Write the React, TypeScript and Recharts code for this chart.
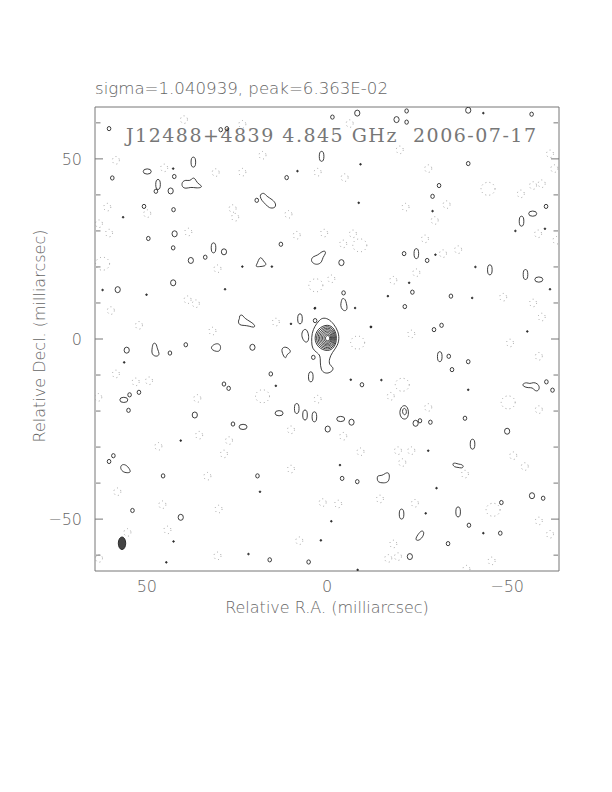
import { ComposedChart, Customized, Line, Scatter, XAxis, YAxis } from "recharts";

type P = [number, number];

// axis ticks (milliarcsec)
const majorTicks = [50, 0, -50];
const minorTicks = [-60, -40, -30, -20, -10, 10, 20, 30, 40, 60];

// core: nested positive contours, innermost first
const coreRing1: P[] = [[-0.2, 1.05], [-0.63, 0.8], [-0.8, 0.2], [-0.63, -0.36], [-0.2, -0.6], [0.3, -0.36], [0.5, 0.2], [0.3, 0.8]];
const coreRing2: P[] = [[-0.2, 1.5], [-0.85, 1.11], [-1.1, 0.2], [-0.85, -0.64], [-0.2, -1.0], [0.63, -0.64], [0.95, 0.2], [0.63, 1.11]];
const coreRing3: P[] = [[-0.2, 1.95], [-1.03, 1.43], [-1.35, 0.2], [-1.03, -0.92], [-0.2, -1.4], [0.95, -0.92], [1.4, 0.2], [0.95, 1.43]];
const coreRing4: P[] = [[-0.2, 2.4], [-1.24, 1.74], [-1.65, 0.2], [-1.24, -1.2], [-0.2, -1.8], [1.28, -1.2], [1.85, 0.2], [1.28, 1.74]];
const coreRing5: P[] = [[-0.2, 2.85], [-1.46, 2.06], [-1.95, 0.2], [-1.46, -1.48], [-0.2, -2.2], [1.6, -1.48], [2.3, 0.2], [1.6, 2.06]];
const coreRing6: P[] = [[-0.2, 3.3], [-1.68, 2.37], [-2.25, 0.2], [-1.68, -1.8], [-0.2, -2.65], [1.92, -1.8], [2.75, 0.2], [1.92, 2.37]];
const coreRing7: P[] = [[-0.2, 3.75], [-1.89, 2.69], [-2.55, 0.2], [-1.89, -2.11], [-0.2, -3.1], [2.25, -2.11], [3.2, 0.2], [2.25, 2.69]];
const coreRing8: P[] = [[-0.2, 4.2], [-2.11, 3.0], [-2.85, 0.2], [-2.11, -2.43], [-0.2, -3.55], [2.57, -2.43], [3.65, 0.2], [2.57, 3.0]];
const coreOuter: P[] = [
  [1.3, 5.9], [-0.3, 5.7], [-1.9, 4.2], [-3.1, 2.1], [-3.4, 0.2], [-3.0, -1.8], [-1.4, -3.8], [-0.6, -5.5],
  [-0.6, -7.2], [-1.6, -7.7], [-1.8, -8.6], [-0.6, -9.5], [0.7, -9.5], [1.7, -8.6], [1.9, -6.3], [1.8, -4.6],
  [2.9, -3.7], [4.1, -2.7], [4.3, -0.7], [4.2, 1.6], [3.4, 3.6], [2.2, 5.1],
];
const coreLobe: P[] = [[6.3, 2.9], [5.4, 2.4], [5.0, 0.7], [5.2, -0.8], [6.1, -1.0], [6.9, 0.2], [7.1, 1.7]];

// larger irregular positive contours
const loopA: P[] = [[40.3, 43.6], [39.2, 44.2], [38.0, 43.8], [37.3, 44.8], [36.6, 44.6], [36.1, 43.3], [34.8, 42.6], [34.8, 42.0], [36.4, 41.9], [37.8, 42.2], [39.2, 41.7], [40.3, 42.2]];
const loopB: P[] = [[18.4, 40.3], [17.4, 40.6], [16.8, 39.6], [15.1, 38.7], [14.1, 37.5], [14.4, 36.3], [16.1, 36.3], [17.0, 37.4], [18.2, 38.5], [18.6, 39.6]];
const loopC: P[] = [[18.8, 22.5], [18.2, 22.7], [17.6, 21.6], [16.8, 20.9], [17.2, 20.2], [18.8, 20.1], [19.9, 20.0], [19.3, 21.1]];
const loopD: P[] = [[4.0, 22.9], [2.6, 23.2], [1.7, 24.1], [0.5, 24.6], [0.3, 23.7], [1.2, 22.7], [1.4, 21.3], [2.6, 20.6], [3.8, 20.9], [4.5, 21.8]];
const loopE: P[] = [[24.4, 6.5], [23.5, 6.8], [23.0, 5.9], [22.1, 5.3], [21.1, 4.7], [19.9, 3.8], [20.2, 3.1], [21.6, 3.6], [23.0, 3.8], [24.4, 3.8], [24.7, 5.1], [24.2, 5.6]];
const loopF: P[] = [[-4.2, 11.4], [-5.1, 11.1], [-5.4, 9.8], [-5.7, 8.4], [-5.1, 7.7], [-4.2, 8.1], [-3.7, 9.3], [-4.0, 10.5]];
const loopG: P[] = [[48.3, -1.1], [47.4, -1.1], [47.1, -2.8], [46.4, -4.2], [47.1, -4.9], [48.3, -4.6], [48.7, -3.7], [48.5, -2.3]];
const loopH: P[] = [[32.3, -2.3], [31.3, -1.4], [30.1, -1.2], [29.4, -2.0], [29.7, -3.4], [30.7, -3.5], [31.8, -3.1]];
const loopI: P[] = [[12.8, -2.6], [11.4, -2.0], [10.0, -3.2], [10.3, -3.9], [11.2, -4.2], [11.4, -5.6], [12.2, -4.6]];
const loopJ: P[] = [[57.5, -35.6], [56.8, -34.7], [55.7, -35.0], [54.9, -35.9], [54.4, -37.0], [55.4, -37.2], [56.8, -36.9]];
const loopK: P[] = [[-54.2, -12.5], [-55.4, -12.0], [-56.3, -12.5], [-57.2, -12.0], [-58.4, -12.3], [-59.1, -13.4], [-58.6, -14.5], [-57.7, -14.4], [-57.0, -13.4], [-55.9, -13.6], [-54.5, -13.2]];
const loopL1: P[] = [[-21.4, -18.3], [-22.3, -18.8], [-22.7, -20.2], [-22.5, -21.8], [-21.6, -22.4], [-20.5, -21.9], [-20.1, -20.4], [-20.5, -19.0]];
const loopL2: P[] = [[-21.5, -19.1], [-22.0, -19.6], [-22.1, -20.6], [-21.6, -21.2], [-21.0, -20.7], [-20.9, -19.6]];
const loopM: P[] = [[-34.7, -34.5], [-35.7, -34.4], [-36.6, -34.8], [-37.5, -34.8], [-38.0, -35.5], [-37.3, -35.9], [-36.4, -35.6], [-35.3, -35.6]];
const loopN: P[] = [[-14.0, -37.8], [-15.3, -38.0], [-16.2, -37.2], [-17.2, -37.0], [-17.4, -38.4], [-17.0, -39.8], [-15.6, -40.0], [-14.2, -39.8], [-13.9, -38.9]];
const loopO: P[] = [[-26.2, -53.1], [-27.0, -53.5], [-26.7, -54.8], [-25.8, -55.8], [-24.8, -56.0], [-24.6, -55.3], [-25.3, -54.2]];

// small positive islands (centres)
const dotBlobs: P[] = [
  [42.7, 47.3], [8.2, 46.6], [56.6, 33.8], [23.5, 20.1], [15.3, 20.1], [62.3, 13.6], [50.1, 12.3], [28.3, 13.8], [3.4, 8.5],
  [3.3, 8.6], [10.0, 4.2], [-12.2, 3.4], [-7.8, 8.6], [-16.9, 11.9],
  [-43.4, 62.7], [-9.3, 48.5], [-8.8, 37.8], [-29.3, 35.5], [-52.3, 30.0], [-60.5, 30.6], [-30.1, 23.4], [-41.2, 20.0],
  [-22.8, 15.6], [-40.3, 11.4], [-61.9, 13.8], [-12.2, 3.3], [-55.6, 2.1],
  [56.3, -6.5], [14.2, -13.0], [40.6, -28.2], [18.6, -42.4], [42.6, -56.2], [1.7, -55.9], [44.6, -62.0], [21.8, -59.7],
  [-6.6, -11.3], [-15.1, -11.4], [-39.2, -14.1], [-28.1, -31.0], [-3.6, -35.0], [-30.4, -41.4], [-27.4, -48.4],
  [-1.2, -50.6], [-43.4, -53.9], [-8.5, -64.1],
];
const smallBlobs: P[] = [
  [60.5, 58.4], [29.5, 58.1], [27.8, 58.4], [42.4, 45.1], [59.6, 44.7], [47.5, 41.0], [11.2, 44.8], [19.5, 38.5],
  [50.8, 36.8], [42.6, 35.9], [49.6, 27.9], [42.7, 25.3], [33.8, 22.7], [12.8, 26.3], [3.3, 5.1],
  [-1.5, 61.6], [-22.1, 60.2], [-22.1, 63.3], [-39.2, 48.7], [-31.1, 42.6], [-29.3, 39.6], [-60.8, 36.8], [-21.4, 23.7],
  [-27.8, 21.8], [-23.7, 13.0], [-34.4, 11.9], [-4.6, 12.8], [-21.6, 9.0], [-31.8, 3.8], [-29.7, 2.6], [-56.8, 62.4],
  [43.6, -3.9], [39.2, -1.6], [3.8, -5.1], [15.6, -9.7], [27.3, -13.7], [28.6, -12.5], [54.8, -15.5], [52.2, -14.8],
  [55.1, -19.8], [26.1, -23.6], [59.3, -32.4], [60.5, -34.0], [45.5, -38.0], [19.3, -38.0], [54.0, -47.6], [15.9, -61.3], [5.1, -61.9],
  [-33.8, -4.8], [-39.2, -6.3], [-34.7, -8.5], [-9.7, -12.7], [-60.9, -11.9], [-25.8, -22.7], [-28.7, -23.1], [-38.3, -22.0],
  [-4.2, -38.7], [-8.4, -39.6], [-48.4, -45.4], [-39.4, -51.7], [-48.1, -53.9], [-33.6, -56.8], [-60.0, -44.2], [-62.6, -14.2],
];
const roundBlobs: P[] = [
  [42.3, 29.2], [42.7, 15.6], [58.1, 13.7], [43.4, 41.1], [28.6, 24.2], [37.8, 21.8],
  [-19.3, 60.9], [-39.2, 63.5], [-8.4, 62.7], [-4.0, 21.2],
  [55.6, -3.1], [20.7, -2.3], [36.7, -21.1], [-0.2, -25.0], [40.6, -49.5],
  [-6.8, -23.1], [-24.6, -23.4], [-23.0, -60.4], [-56.9, -43.5], [-50.0, -25.6],
];
const tallBlobs: P[] = [
  [37.1, 49.1], [46.9, 42.9], [31.5, 25.3], [1.5, 50.7], [7.5, 5.6],
  [-54.0, 32.7], [-24.8, 23.7], [-45.2, 19.2], [-55.1, 17.9],
  [8.4, -19.3], [6.1, -21.1], [3.5, -21.6], [4.5, -10.5],
  [-31.3, -4.9], [-20.7, -48.6], [-36.4, -48.0], [-40.4, -29.2],
];
const wideBlobs: P[] = [
  [49.9, 46.5], [-57.1, 34.8], [-58.8, 16.5], [56.4, -16.9], [23.3, -24.4], [13.3, -20.6], [-3.8, -22.2],
];

// negative (dotted) contours
const negLarge: P[] = [
  [3.1, 14.9], [-8.5, -1.0], [-44.7, 41.7], [-50.3, -17.6], [17.9, -15.9], [-20.9, -12.7], [62.3, 20.9], [-9.1, 26.0], [-46.1, -47.4],
];
const negSmall: P[] = [
  [39.7, 60.9], [23.5, 59.6], [17.9, 51.0], [58.6, 49.6], [45.2, 47.5], [30.9, 46.2], [23.5, 46.3], [2.6, 46.3],
  [61.0, 36.6], [49.9, 34.8], [26.2, 36.2], [25.5, 33.8], [10.7, 34.6], [63.3, 32.0], [60.5, 29.4], [38.5, 29.7],
  [8.4, 28.8], [0.8, 29.4], [30.4, 19.5], [38.7, 10.9], [36.4, 9.8], [60.0, 7.9], [52.2, 3.8], [31.8, 2.2], [14.2, 4.7],
  [-6.3, 59.8], [-20.2, 52.5], [-28.1, 47.3], [-4.9, 44.8], [-53.8, 40.3], [-59.6, 43.1], [-57.2, 42.6], [-63.1, 47.3],
  [-61.9, 51.4], [-21.8, 36.6], [-33.2, 37.3], [-29.9, 32.9], [-7.2, 29.2], [-4.5, 26.4], [-27.2, 27.8], [-36.4, 24.8],
  [-32.2, 23.7], [-58.6, 29.2], [-63.7, 27.4], [-24.8, 18.4], [-18.4, 16.3], [-1.2, 16.7], [-48.9, 11.6], [-57.2, 10.0],
  [-59.6, 6.1], [-23.4, 1.4],
  [58.6, -9.7], [53.1, -11.9], [49.4, -11.6], [63.5, -16.2], [36.0, -16.5], [2.6, -16.7], [10.0, -25.2], [35.5, -26.7],
  [27.2, -28.2], [46.8, -29.8], [28.6, -31.9], [10.0, -36.1], [33.2, -38.1], [58.2, -42.4], [45.7, -46.0], [30.1, -47.2],
  [1.2, -45.4], [55.4, -53.7], [44.3, -53.0], [63.3, -60.9], [7.7, -56.0], [30.4, -60.2],
  [-50.8, -1.1], [-58.8, -4.8], [-17.7, -15.9], [-58.8, -19.6], [-28.1, -19.0], [-4.5, -27.0], [-9.3, -31.3], [-19.7, -31.0],
  [-23.4, -31.0], [-20.9, -34.3], [-51.7, -32.4], [-54.9, -35.4], [-38.3, -37.5], [-14.7, -44.4], [-3.1, -45.8], [-24.4, -45.6],
  [-58.8, -50.5], [-61.9, -54.2], [-18.4, -56.9], [-19.7, -60.4], [-17.0, -60.9], [-45.7, -61.6], [-38.7, -63.9],
];

// restoring beam position
const beam: P[] = [[56.9, -56.7]];

const coreRings = [coreRing1, coreRing2, coreRing3, coreRing4, coreRing5, coreRing6, coreRing7, coreRing8];
const loops = [coreOuter, coreLobe, loopA, loopB, loopC, loopD, loopE, loopF, loopG, loopH, loopI, loopJ, loopK, loopL1, loopL2, loopM, loopN, loopO];

const DOMAIN: [number, number] = [-64.4, 64.4];
const INK = "#2a2a2a";
const FRAME = "#777";
const TXT = "#666";
const FONT = "'DejaVu Sans', sans-serif";

const toPts = (a: P[]) => a.map(([x, y]) => ({ x, y }));
const fmt = (v: number) => (v < 0 ? `\u2212${-v}` : `${v}`);
const noLabel = () => "";

const ellipse = (rx: number, ry: number, stroke: string, dash?: string, fill = "none") => (p: any) => (
  <ellipse
    cx={p.cx}
    cy={p.cy}
    rx={rx}
    ry={ry}
    fill={fill}
    stroke={stroke}
    strokeWidth={dash ? 1 : 0.9}
    strokeDasharray={dash}
  />
);

const Texts = () => (
  <g fontFamily={FONT} fill={TXT} fontWeight={300}>
    <text x={95} y={94} fontSize={16} textLength={293} lengthAdjust="spacingAndGlyphs">
      sigma=1.040939, peak=6.363E-02
    </text>
    <text
      x={126}
      y={141.5}
      fontFamily="'DejaVu Serif', serif"
      fontSize={19}
      fill="#777"
      textLength={410}
      style={{ whiteSpace: "pre" }}
    >
      J12488+4839 4.845 GHz  2006-07-17
    </text>
    <text x={327} y={613} textAnchor="middle" fontSize={16}>
      Relative R.A. (milliarcsec)
    </text>
    <text transform="translate(45,336) rotate(-90)" textAnchor="middle" fontSize={16}>
      Relative Decl. (milliarcsec)
    </text>
  </g>
);

const tickStyle = { fontSize: 16, fill: TXT, fontFamily: FONT, fontWeight: 300 };
const tickLineStyle = { stroke: FRAME, strokeWidth: 1 };

export default function App() {
  return (
    <div style={{ position: "absolute", left: 0, top: 0, width: 612, height: 792, background: "#fff" }}>
      <ComposedChart width={612} height={792} margin={{ top: 107, right: 53, bottom: 191, left: 55 }}>
        {/* labelled axes */}
        <XAxis
          type="number"
          dataKey="x"
          domain={DOMAIN}
          reversed
          allowDataOverflow
          ticks={majorTicks}
          interval={0}
          tickFormatter={fmt}
          tickLine={false}
          tickSize={0}
          tickMargin={10}
          height={30}
          axisLine={{ stroke: FRAME }}
          tick={tickStyle}
        />
        <YAxis
          type="number"
          dataKey="y"
          domain={DOMAIN}
          allowDataOverflow
          ticks={majorTicks}
          interval={0}
          tickFormatter={fmt}
          tickLine={false}
          tickSize={0}
          tickMargin={13}
          width={40}
          axisLine={{ stroke: FRAME }}
          tick={tickStyle}
        />
        {/* inward tick marks on all four sides */}
        {(["bottom", "top"] as const).map((o) => [
          <XAxis key={o + "M"} xAxisId={o + "M"} orientation={o} mirror type="number" domain={DOMAIN} reversed allowDataOverflow
            ticks={majorTicks} interval={0} tickFormatter={noLabel} tickLine={tickLineStyle} tickSize={8} height={1}
            axisLine={o === "top" ? { stroke: FRAME } : false} />,
          <XAxis key={o + "m"} xAxisId={o + "m"} orientation={o} mirror type="number" domain={DOMAIN} reversed allowDataOverflow
            ticks={minorTicks} interval={0} tickFormatter={noLabel} tickLine={tickLineStyle} tickSize={4.5} height={1}
            axisLine={false} />,
        ])}
        {(["left", "right"] as const).map((o) => [
          <YAxis key={o + "M"} yAxisId={o + "M"} orientation={o} mirror type="number" domain={DOMAIN} allowDataOverflow
            ticks={majorTicks} interval={0} tickFormatter={noLabel} tickLine={tickLineStyle} tickSize={8} width={1}
            axisLine={o === "right" ? { stroke: FRAME } : false} />,
          <YAxis key={o + "m"} yAxisId={o + "m"} orientation={o} mirror type="number" domain={DOMAIN} allowDataOverflow
            ticks={minorTicks} interval={0} tickFormatter={noLabel} tickLine={tickLineStyle} tickSize={4.5} width={1}
            axisLine={false} />,
        ])}

        {/* negative contours */}
        <Scatter data={toPts(negSmall)} shape={ellipse(3.5, 3.8, "#999", "0.9 3.2")} isAnimationActive={false} legendType="none" />
        <Scatter data={toPts(negLarge)} shape={ellipse(7, 6.5, "#999", "0.9 3.2")} isAnimationActive={false} legendType="none" />

        {/* positive contours */}
        <Scatter data={toPts(dotBlobs)} shape={ellipse(0.8, 0.8, INK, undefined, INK)} isAnimationActive={false} legendType="none" />
        <Scatter data={toPts(smallBlobs)} shape={ellipse(1.8, 2.1, INK)} isAnimationActive={false} legendType="none" />
        <Scatter data={toPts(roundBlobs)} shape={ellipse(2.6, 3.0, INK)} isAnimationActive={false} legendType="none" />
        <Scatter data={toPts(tallBlobs)} shape={ellipse(2.3, 5, INK)} isAnimationActive={false} legendType="none" />
        <Scatter data={toPts(wideBlobs)} shape={ellipse(4, 2.6, INK)} isAnimationActive={false} legendType="none" />

        {loops.map((l, i) => (
          <Line key={"loop" + i} data={toPts(l)} dataKey="y" type="basisClosed" stroke={INK} strokeWidth={0.9}
            dot={false} activeDot={false} isAnimationActive={false} legendType="none" />
        ))}
        {coreRings.map((l, i) => (
          <Line key={"core" + i} data={toPts(l)} dataKey="y" type="basisClosed" stroke="#222" strokeWidth={0.9}
            dot={false} activeDot={false} isAnimationActive={false} legendType="none" />
        ))}

        {/* beam */}
        <Scatter data={toPts(beam)} shape={ellipse(3.7, 6.3, "#222", undefined, "#444")} isAnimationActive={false} legendType="none" />

        <Customized component={Texts} />
      </ComposedChart>
    </div>
  );
}
